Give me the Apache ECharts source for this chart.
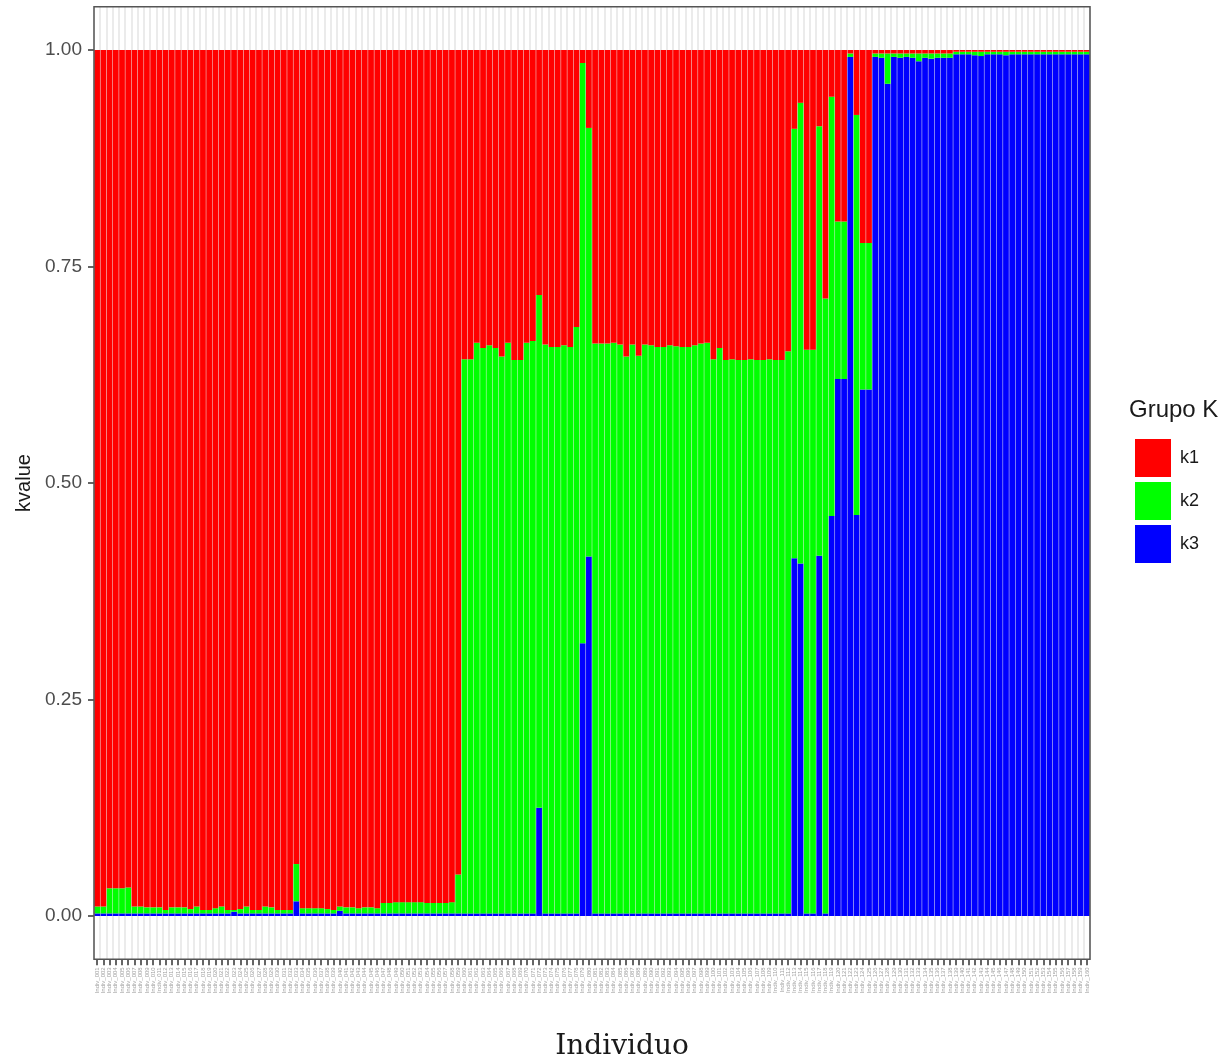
<!DOCTYPE html>
<html>
<head>
<meta charset="utf-8">
<script src="https://cdn.jsdelivr.net/npm/echarts@6/dist/echarts.min.js"></script>
<style>
html,body{margin:0;padding:0;background:#fff;}
#chart{width:1230px;height:1061px;}
</style>
</head>
<body>
<div id="chart"></div>
<script>
// Individuals (labels in the reference are illegible; generic IDs used)
var individuals = [];
for (var n = 1; n <= 160; n++) { individuals.push('Indiv_' + ('00' + n).slice(-3)); }

var groups = ['k1', 'k2', 'k3'];
var yTicks = [0, 0.25, 0.5, 0.75, 1];

var k1 = [
 .989,.989,.968,.968,.968,.967,.989,.989,.990,.990,
 .990,.993,.990,.990,.990,.992,.989,.993,.993,.991,
 .989,.993,.993,.992,.989,.993,.993,.989,.990,.993,
 .993,.993,.940,.991,.991,.991,.991,.992,.993,.989,
 .990,.990,.991,.990,.990,.991,.985,.985,.984,.984,
 .984,.984,.984,.985,.985,.985,.985,.984,.952,.357,
 .357,.338,.344,.341,.344,.354,.338,.358,.358,.338,
 .336,.283,.340,.343,.343,.341,.343,.320,.015,.090,
 .339,.339,.339,.338,.340,.354,.340,.353,.340,.341,
 .343,.343,.341,.342,.343,.343,.341,.339,.338,.357,
 .344,.358,.357,.358,.358,.357,.358,.358,.357,.358,
 .358,.348,.091,.061,.346,.346,.088,.287,.054,.198,
 .198,.004,.075,.223,.223,.004,.004,.004,.004,.004,
 .004,.004,.004,.004,.004,.004,.004,.004,.002,.002,
 .002,.002,.002,.002,.002,.002,.002,.002,.002,.002,
 .002,.002,.002,.002,.002,.002,.002,.002,.002,.002
];
var k2 = [
 .008,.008,.029,.029,.029,.030,.008,.008,.007,.007,
 .007,.004,.007,.007,.007,.005,.008,.004,.004,.006,
 .008,.004,.002,.005,.008,.004,.004,.008,.007,.004,
 .004,.004,.043,.006,.006,.006,.006,.005,.004,.005,
 .007,.007,.006,.007,.007,.006,.012,.012,.013,.013,
 .013,.013,.013,.012,.012,.012,.012,.013,.045,.640,
 .640,.659,.653,.656,.653,.643,.659,.639,.639,.659,
 .661,.592,.657,.654,.654,.656,.654,.677,.670,.495,
 .658,.658,.658,.659,.657,.643,.657,.644,.657,.656,
 .654,.654,.656,.655,.654,.654,.656,.658,.659,.640,
 .653,.639,.640,.639,.639,.640,.639,.639,.640,.639,
 .639,.649,.496,.532,.651,.651,.496,.710,.484,.182,
 .182,.004,.462,.169,.169,.004,.005,.035,.004,.005,
 .004,.005,.009,.005,.006,.005,.005,.005,.003,.003,
 .003,.004,.005,.003,.003,.003,.004,.003,.003,.003,
 .003,.003,.003,.003,.003,.003,.003,.003,.003,.003
];
var k3 = [
 .003,.003,.003,.003,.003,.003,.003,.003,.003,.003,
 .003,.003,.003,.003,.003,.003,.003,.003,.003,.003,
 .003,.003,.005,.003,.003,.003,.003,.003,.003,.003,
 .003,.003,.017,.003,.003,.003,.003,.003,.003,.006,
 .003,.003,.003,.003,.003,.003,.003,.003,.003,.003,
 .003,.003,.003,.003,.003,.003,.003,.003,.003,.003,
 .003,.003,.003,.003,.003,.003,.003,.003,.003,.003,
 .003,.125,.003,.003,.003,.003,.003,.003,.315,.415,
 .003,.003,.003,.003,.003,.003,.003,.003,.003,.003,
 .003,.003,.003,.003,.003,.003,.003,.003,.003,.003,
 .003,.003,.003,.003,.003,.003,.003,.003,.003,.003,
 .003,.003,.413,.407,.003,.003,.416,.003,.462,.620,
 .620,.992,.463,.608,.608,.992,.991,.961,.992,.991,
 .992,.991,.987,.991,.990,.991,.991,.991,.995,.995,
 .995,.994,.993,.995,.995,.995,.994,.995,.995,.995,
 .995,.995,.995,.995,.995,.995,.995,.995,.995,.995
];

var colors = {k1: '#ff0000', k2: '#00ff00', k3: '#0000ff'};
var values = {k1: k1, k2: k2, k3: k3};

var chart = echarts.init(document.getElementById('chart'), null, {renderer: 'canvas'});

var seriesOrder = ['k3', 'k2', 'k1'];
var series = seriesOrder.map(function (g) {
  return {
    name: g,
    type: 'bar',
    stack: 'total',
    data: values[g],
    barCategoryGap: '8%',
    itemStyle: {color: colors[g]},
    emphasis: {disabled: true},
    z: 2
  };
});

chart.setOption({
  animation: false,
  textStyle: {fontFamily: 'Liberation Sans, Arial, sans-serif'},
  grid: {
    left: 94, right: 140, top: 6.7, bottom: 101.7,
    show: true, backgroundColor: 'transparent',
    borderColor: '#555555', borderWidth: 1.5, z: 5
  },
  legend: {
    data: groups,
    orient: 'vertical',
    left: 1130, top: 434,
    itemWidth: 36, itemHeight: 38, itemGap: 5,
    icon: 'rect',
    selectedMode: false,
    textStyle: {fontSize: 18, color: '#1a1a1a', padding: [0, 0, 0, 4]}
  },
  graphic: [{
    type: 'text', left: 1129, top: 398,
    style: {text: 'Grupo K', fontSize: 24, fill: '#1a1a1a', fontFamily: 'Liberation Sans, Arial, sans-serif'}
  }, {
    type: 'text', x: 622, y: 1047,
    style: {text: 'Individuo', fontSize: 28, fill: '#1a1a1a', fontFamily: 'DejaVu Serif, serif',
      textAlign: 'center', textVerticalAlign: 'middle'}
  }],
  xAxis: {
    type: 'category',
    data: individuals,
    boundaryGap: true,
    axisLine: {show: false, onZero: false},
    axisTick: {show: true, alignWithLabel: true, length: 6, lineStyle: {color: '#333', width: 1.5}, interval: 0},
    axisLabel: {interval: 0, rotate: 90, fontSize: 6, color: '#a0a0a0', margin: 8},
    splitLine: {show: true, interval: 0, lineStyle: {color: '#ebebeb', width: 2}}
  },
  yAxis: {
    type: 'value',
    min: -0.05, max: 1.05,
    axisLine: {show: false},
    axisTick: {show: true, length: 6, lineStyle: {color: '#333', width: 1.5}, customValues: yTicks},
    axisLabel: {fontSize: 19, color: '#4d4d4d', margin: 12, customValues: yTicks,
      formatter: function (v) { return v.toFixed(2); }},
    splitLine: {show: false},
    name: 'kvalue',
    nameLocation: 'middle',
    nameRotate: 90,
    nameGap: 52,
    nameTextStyle: {fontSize: 20, color: '#1a1a1a'}
  },
  series: series
});
</script>
</body>
</html>
